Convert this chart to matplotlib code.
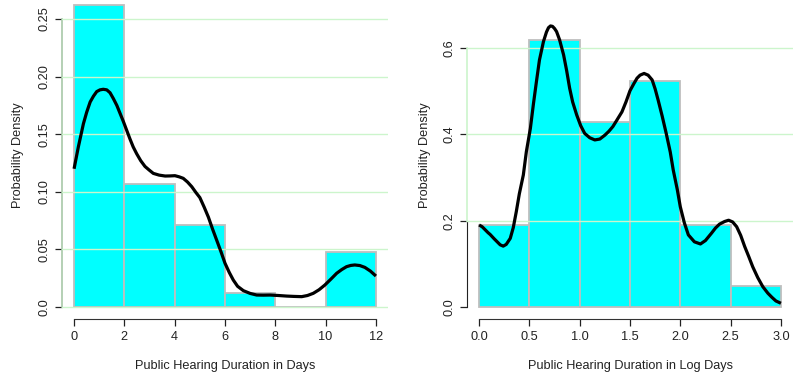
import numpy as np
import matplotlib
matplotlib.use("Agg")
import matplotlib.pyplot as plt

plt.rcParams['font.family'] = ['Liberation Sans', 'DejaVu Sans']

# histogram of hearing duration (days), bin width 2
day_edges = [0, 2, 4, 6, 8, 10, 12]
day_density = [0.2619, 0.1071, 0.0714, 0.0119, 0.0, 0.0476]

# kernel density estimate, days
day_kde_x = [0.0, 0.08, 0.17, 0.27, 0.37, 0.50, 0.64, 0.77, 0.90, 1.03, 1.16, 1.30,
             1.43, 1.56, 1.70, 1.83, 1.96, 2.09, 2.22, 2.35, 2.49, 2.65, 2.82, 2.98,
             3.15, 3.38, 3.62, 3.82, 4.01, 4.18, 4.34, 4.51, 4.68, 4.84, 5.0, 5.17,
             5.34, 5.50, 5.67, 5.84, 6.0, 6.17, 6.33, 6.50, 6.73, 7.0, 7.26, 7.52,
             7.79, 8.12, 8.45, 8.75, 9.05, 9.28, 9.51, 9.74, 9.97, 10.2, 10.44, 10.64,
             10.83, 11.0, 11.16, 11.36, 11.56, 11.78, 12.0]
day_kde_y = [0.120, 0.129, 0.139, 0.149, 0.159, 0.169, 0.178, 0.183, 0.187, 0.1885,
             0.189, 0.1885, 0.186, 0.181, 0.175, 0.168, 0.161, 0.1535, 0.146, 0.139,
             0.133, 0.127, 0.122, 0.119, 0.116, 0.1145, 0.1137, 0.1138, 0.114, 0.113,
             0.1117, 0.1085, 0.1044, 0.0995, 0.095, 0.0868, 0.078, 0.068, 0.058, 0.048,
             0.038, 0.030, 0.0234, 0.018, 0.0142, 0.0118, 0.0104, 0.0103, 0.0104,
             0.0100, 0.0095, 0.0092, 0.0090, 0.0100, 0.0119, 0.0150, 0.0191, 0.0240,
             0.0293, 0.0325, 0.035, 0.0361, 0.0365, 0.0360, 0.0344, 0.0312, 0.0269]

# histogram of log duration, bin width 0.5
log_edges = [0.0, 0.5, 1.0, 1.5, 2.0, 2.5, 3.0]
log_density = [0.1905, 0.6190, 0.4286, 0.5238, 0.1905, 0.0476]

# kernel density estimate, log days
log_kde_x = [0.0, 0.03, 0.06, 0.09, 0.11, 0.15, 0.18, 0.21, 0.24, 0.27, 0.31, 0.34,
             0.37, 0.40, 0.44, 0.47, 0.51, 0.54, 0.57, 0.60, 0.64, 0.67, 0.69, 0.71,
             0.73, 0.75, 0.77, 0.80, 0.84, 0.87, 0.90, 0.93, 0.97, 1.01, 1.05, 1.10,
             1.15, 1.20, 1.25, 1.29, 1.33, 1.37, 1.42, 1.46, 1.50, 1.54, 1.57, 1.60,
             1.64, 1.68, 1.72, 1.75, 1.78, 1.82, 1.86, 1.90, 1.93, 1.97, 2.0, 2.04,
             2.08, 2.14, 2.20, 2.25, 2.31, 2.35, 2.39, 2.44, 2.48, 2.52, 2.56, 2.60,
             2.64, 2.68, 2.72, 2.77, 2.82, 2.87, 2.91, 2.95, 3.0]
log_kde_y = [0.190, 0.186, 0.179, 0.172, 0.168, 0.158, 0.151, 0.144, 0.141, 0.145,
             0.159, 0.184, 0.221, 0.262, 0.306, 0.360, 0.414, 0.470, 0.522, 0.572,
             0.615, 0.637, 0.647, 0.651, 0.650, 0.645, 0.638, 0.619, 0.584, 0.548,
             0.507, 0.475, 0.445, 0.420, 0.402, 0.392, 0.387, 0.389, 0.398, 0.407,
             0.418, 0.433, 0.452, 0.475, 0.501, 0.518, 0.530, 0.537, 0.541, 0.537,
             0.526, 0.505, 0.479, 0.442, 0.402, 0.359, 0.317, 0.272, 0.232, 0.195,
             0.167, 0.151, 0.146, 0.154, 0.171, 0.183, 0.192, 0.198, 0.201, 0.197,
             0.186, 0.166, 0.140, 0.117, 0.093, 0.068, 0.047, 0.032, 0.0225, 0.014,
             0.0086]

day_ticks = [0, 2, 4, 6, 8, 10, 12]
day_yticks = [0.0, 0.05, 0.10, 0.15, 0.20, 0.25]
day_ylabels = ["0.0", "0.05", "0.10", "0.15", "0.20", "0.25"]
log_ticks = [0.0, 0.5, 1.0, 1.5, 2.0, 2.5, 3.0]
log_yticks = [0.0, 0.2, 0.4, 0.6]
log_ylabels = ["0.0", "0.2", "0.4", "0.6"]

W, H = 794, 381
fig = plt.figure(figsize=(W / 100, H / 100), dpi=100)

FS = 9.2
GRID = '#ccf5cc'


def panel(rect, edges, dens, kx, ky, xticks, yticks, ylabels, xlim, ylim, grid_y):
    ax = fig.add_axes(rect)
    ax.bar(edges[:-1], dens, width=np.diff(edges), align='edge',
           color='#00ffff', edgecolor='#bebebe', linewidth=1.3, zorder=2)
    for g in grid_y:
        ax.axhline(g, color=GRID, lw=1.0, zorder=3)
    ax.plot(kx, ky, color='black', lw=2.3, zorder=4,
            solid_capstyle='butt', solid_joinstyle='round')
    ax.set_xlim(*xlim)
    ax.set_ylim(*ylim)
    for s in ['top', 'right']:
        ax.spines[s].set_visible(False)
    ax.spines['bottom'].set_bounds(xticks[0], xticks[-1])
    ax.spines['bottom'].set_color('#333333')
    ax.set_xticks(xticks)
    ax.set_xticklabels([f"{t:g}" if isinstance(t, int) else f"{t:.1f}" for t in xticks])
    ax.set_yticks(yticks)
    ax.set_yticklabels(ylabels)
    ax.tick_params(axis='x', length=5, width=0.9, pad=3.5, labelsize=FS, colors='#222222')
    ax.tick_params(axis='y', length=5, width=0.9, pad=3, labelsize=FS, colors='#222222',
                   labelrotation=90)
    for lab in ax.get_yticklabels():
        lab.set_va('center')
    ax.patch.set_alpha(0)
    return ax


ax1 = panel([62 / W, (H - 319) / H, 326 / W, 319 / H], day_edges, day_density,
            day_kde_x, day_kde_y, day_ticks, day_yticks, day_ylabels,
            (-0.48, 12.48), (-0.0104, 0.2665), day_yticks)
ax1.spines['left'].set_bounds(0, 0.25)
ax1.spines['left'].set_color('#a8c8a8')
ax1.spines['left'].set_linewidth(1.2)

ax2 = panel([467 / W, (H - 319) / H, 326 / W, 319 / H], log_edges, log_density,
            log_kde_x, log_kde_y, log_ticks, log_yticks, log_ylabels,
            (-0.12, 3.12), (-0.0278, 0.7111), [0.2, 0.4, 0.6])
ax2.spines['left'].set_bounds(0, 0.2)
ax2.spines['left'].set_color('#222222')
ax2.plot([-0.12, -0.12], [0.2, 0.6], color=GRID, lw=1.2, clip_on=False, zorder=3)

for x in (18, 425):
    fig.text(x / W, (H - 155) / H, "Probability Density", rotation=90,
             ha='center', va='center', fontsize=FS, color='#222222')
fig.text(225 / W, (H - 366) / H, "Public Hearing Duration in Days",
         ha='center', va='center', fontsize=FS, color='#222222')
fig.text(630 / W, (H - 366) / H, "Public Hearing Duration in Log Days",
         ha='center', va='center', fontsize=FS, color='#222222')

fig.savefig("out.png", dpi=100)
